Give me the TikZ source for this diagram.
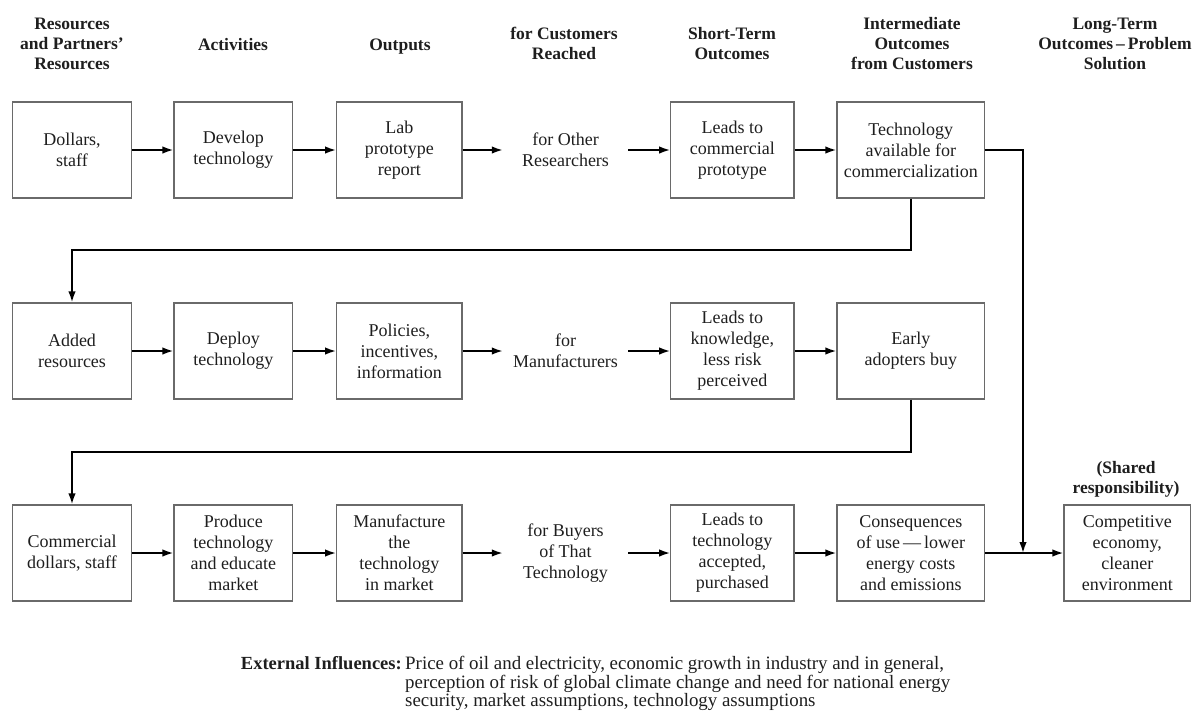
\documentclass[tikz,border=0pt]{standalone}
\usepackage{fontspec}
\setmainfont{Liberation Serif}
\usetikzlibrary{arrows.meta}
\definecolor{boxgray}{HTML}{6A6A6A}
\definecolor{txt}{HTML}{1E1E1E}
\begin{document}
\begin{tikzpicture}[x=1pt,y=-1pt,
  box/.style={draw=boxgray, line width=1.3pt, inner sep=0pt, align=center,
    minimum height=96pt, text=txt, font=\fontsize{18}{21}\selectfont},
  plain/.style={inner sep=0pt, align=center, minimum height=96pt, text=txt,
    font=\fontsize{18}{21}\selectfont},
  hdr/.style={inner sep=0pt, align=center, text=txt,
    font=\fontsize{17.5}{20}\selectfont\bfseries,
    execute at begin node=\strut, execute at end node=\strut},
  arr/.style={line width=1.8pt, draw=black, -{Latex[length=11pt,width=7.5pt]}},
  conn/.style={line width=1.8pt, draw=black}
]
\useasboundingbox (0,0) rectangle (1199,713);

% headers
\node[hdr] (h1) at (72,46.5) {Resources\\and Partners’\\Resources};
\node[hdr] (h2) at (233,46.5) {Activities};
\node[hdr] (h3) at (400,46.5) {Outputs};
\node[hdr] (h4) at (564,46.5) {for Customers\\Reached};
\node[hdr] (h5) at (732,46.5) {Short-Term\\Outcomes};
\node[hdr] (h6) at (912,46.5) {Intermediate\\Outcomes\\from Customers};
\node[hdr] (h7) at (1115,46.5) {Long-Term\\Outcomes\,–\,Problem\\Solution};

% row 1
\node[box, minimum width=118.7pt] (b11) at (72,150) {Dollars,\\staff};
\node[box, minimum width=118.7pt] (b12) at (233.4,150) {Develop\\technology};
\node[box, minimum width=125.2pt] (b13) at (399.3,150) {Lab\\prototype\\report};
\node[plain, minimum width=125pt] (b14) at (565.5,150) {for Other\\Researchers};
\node[box, minimum width=123.2pt] (b15) at (732.4,150) {Leads to\\commercial\\prototype};
\node[box, minimum width=147.6pt] (b16) at (910.8,150) {Technology\\available for\\commercialization};

% row 2
\node[box, minimum width=118.7pt] (b21) at (72,351) {Added\\resources};
\node[box, minimum width=118.7pt] (b22) at (233.4,351) {Deploy\\technology};
\node[box, minimum width=125.2pt] (b23) at (399.3,351) {Policies,\\incentives,\\information};
\node[plain, minimum width=125pt] (b24) at (565.5,351) {for\\Manufacturers};
\node[box, minimum width=123.2pt] (b25) at (732.4,351) {Leads to\\knowledge,\\less risk\\perceived};
\node[box, minimum width=147.6pt] (b26) at (910.8,351) {Early\\adopters buy};

% row 3
\node[box, minimum width=118.7pt] (b31) at (72,553) {Commercial\\dollars, staff};
\node[box, minimum width=118.7pt] (b32) at (233.4,553) {Produce\\technology\\and educate\\market};
\node[box, minimum width=125.2pt] (b33) at (399.3,553) {Manufacture\\the\\technology\\in market};
\node[plain, minimum width=125pt] (b34) at (565.5,553) {for Buyers\\of That\\Technology};
\node[box, minimum width=123.2pt] (b35) at (732.4,553) {Leads to\\technology\\accepted,\\purchased};
\node[box, minimum width=147.6pt] (b36) at (910.8,553) {Consequences\\of use\,—\,lower\\energy costs\\and emissions};
\node[box, minimum width=126.5pt] (b37) at (1127.3,553) {Competitive\\economy,\\cleaner\\environment};
\node[hdr] (sh) at (1126,480.5) {(Shared\\responsibility)};

% horizontal arrows
\foreach \r in {1,2,3}{
  \draw[arr] (b\r1.east) -- (b\r2.west);
  \draw[arr] (b\r2.east) -- (b\r3.west);
  \draw[arr] (b\r3.east) -- (b\r4.west);
  \draw[arr] (b\r4.east) -- (b\r5.west);
  \draw[arr] (b\r5.east) -- (b\r6.west);
}
\draw[arr] (b36.east) -- (b37.west);

% connectors between rows
\coordinate (k1) at (910.8,250.3);
\coordinate (k2) at (910.8,452);
\coordinate (j) at (1023,553);
\draw[arr] (b16.south) -- (k1) -| (b21.north);
\draw[arr] (b26.south) -- (k2) -| (b31.north);
\draw[arr] (b16.east) -| (j);

% external influences
\node[inner sep=0pt, anchor=north east, text=txt, font=\fontsize{18.5}{18.5}\selectfont\bfseries] (ext) at (402,656) {External Influences:};
\node[inner sep=0pt, anchor=north west, align=left, text=txt, font=\fontsize{18.9}{18.6}\selectfont] (exttext) at (405,656)
  {Price of oil and electricity, economic growth in industry and in general,\\
   perception of risk of global climate change and need for national energy\\
   security, market assumptions, technology assumptions};
\end{tikzpicture}
\end{document}
